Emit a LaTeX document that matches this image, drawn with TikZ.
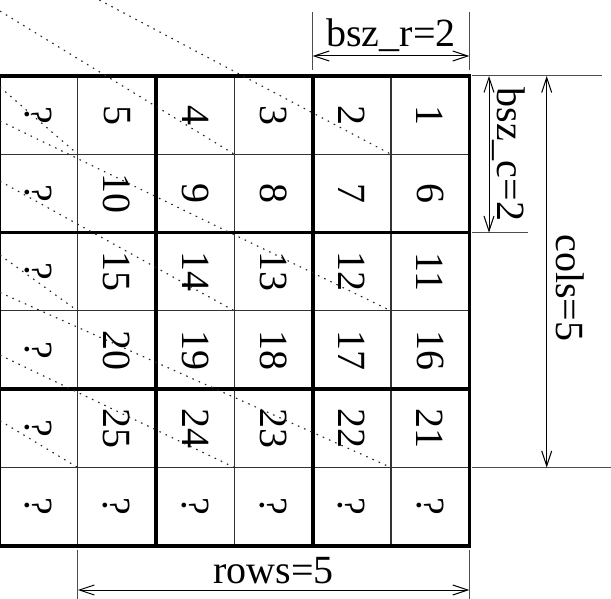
\documentclass[tikz,border=0pt]{standalone}
\usepackage{fontspec}
\setmainfont{Liberation Serif}
\usetikzlibrary{arrows.meta}
\begin{document}
\begin{tikzpicture}[x=1pt,y=-1pt,
  thinrule/.style={line width=1.1pt, black!80},
  thickrule/.style={line width=3.6pt, line cap=rect},
  dotline/.style={line width=1.1pt, dash pattern=on 1.6pt off 5.2pt, black!85},
  dimarrow/.style={line width=1pt, {Straight Barb[length=15pt,width=10pt]}-{Straight Barb[length=15pt,width=10pt]}},
  extline/.style={line width=1pt, black!70},
  celltext/.style={font=\fontsize{40}{48}\selectfont, rotate=-90, inner sep=0pt},
  lbl/.style={font=\fontsize{40}{48}\selectfont, inner sep=0pt}]
\useasboundingbox (0,0) rectangle (611,599);
\clip (0,0) rectangle (611,599);
\def\GL{-0.5}\def\GT{76}\def\GS{78.3}
% cell texts
\foreach \r in {0,...,5}{
  \foreach \c in {0,...,5}{
    \pgfmathsetmacro{\cx}{\GL+\GS*(\c+0.5)}
    \pgfmathsetmacro{\cy}{\GT+\GS*(\r+0.5)}
    \pgfmathtruncatemacro{\v}{5*\r+6-\c}
    \ifnum\c=0
      \node[celltext] (n-\r-\c) at (\cx,\cy) {?};
    \else\ifnum\r=5
      \node[celltext] (n-\r-\c) at (\cx,\cy) {?};
    \else
      \node[celltext] (n-\r-\c) at (\cx,\cy) {\v};
    \fi\fi
  }
}
% thin grid lines
\foreach \i in {1,3,5}{
  \draw[thinrule] ({\GL+\GS*\i},\GT) -- ({\GL+\GS*\i},{\GT+6*\GS});
  \draw[thinrule] (\GL,{\GT+\GS*\i}) -- ({\GL+6*\GS},{\GT+\GS*\i});
}
% thick block lines
\foreach \i in {0,2,4,6}{
  \draw[thickrule] ({\GL+\GS*\i},\GT) -- ({\GL+\GS*\i},{\GT+6*\GS});
  \draw[thickrule] (\GL,{\GT+\GS*\i}) -- ({\GL+6*\GS},{\GT+\GS*\i});
}
% block centres and dotted lines
\coordinate (b00) at (77.8,154.3);
\coordinate (b01) at (234.4,154.3);
\coordinate (b02) at (391,154.3);
\coordinate (b10) at (77.8,310.9);
\coordinate (b11) at (234.4,310.9);
\coordinate (b12) at (391,310.9);
\coordinate (b20) at (77.8,467.5);
\coordinate (b21) at (234.4,467.5);
\coordinate (b22) at (391,467.5);
\coordinate (s00) at (0,87.2);
\coordinate (s01) at (0,11.1);
\coordinate (s02) at (99.3,0);
\coordinate (s10) at (0,255.1);
\coordinate (s11) at (0,181.2);
\coordinate (s12) at (0,120.9);
\coordinate (s20) at (0,420.7);
\coordinate (s21) at (0,355.1);
\coordinate (s22) at (0,292.5);
\foreach \k in {00,01,02,10,11,12,20,21,22}{
  \draw[dotline] (s\k) -- (b\k);
}
% bsz_r dimension
\coordinate (r1t) at (312.7,12); \coordinate (r1b) at (312.7,70);
\coordinate (r2t) at (469.3,12); \coordinate (r2b) at (469.3,70);
\draw[extline] (r1t) -- (r1b);
\draw[extline] (r2t) -- (r2b);
\draw[dimarrow] (312.7,56) coordinate (ra) -- (469.3,56) coordinate (rb);
\node[lbl, anchor=base] (bszr) at (391,46.5) {bsz\_r=2};
% bsz_c and cols dimensions
\coordinate (e1a) at (472,76); \coordinate (e1b) at (602,76);
\coordinate (e2a) at (472,232.6); \coordinate (e2b) at (528,232.6);
\coordinate (e3a) at (472,467.5); \coordinate (e3b) at (611,467.5);
\draw[extline] (e1a) -- (e1b);
\draw[extline] (e2a) -- (e2b);
\draw[extline] (e3a) -- (e3b);
\draw[dimarrow] (489,76) coordinate (ca) -- (489,232.6) coordinate (cb);
\node[lbl, rotate=-90, anchor=base] (bszc) at (497,154.3) {bsz\_c=2};
\draw[dimarrow] (546.7,76) coordinate (da) -- (546.7,467.5) coordinate (db);
\node[lbl, rotate=-90, anchor=base] (cols) at (556,288) {cols=5};
% rows dimension
\coordinate (w1t) at (77.8,550); \coordinate (w1b) at (77.8,599);
\coordinate (w2t) at (469.3,550); \coordinate (w2b) at (469.3,599);
\draw[extline] (w1t) -- (w1b);
\draw[extline] (w2t) -- (w2b);
\draw[dimarrow] (77.8,590) coordinate (wa) -- (469.3,590) coordinate (wb);
\node[lbl, anchor=base] (rows) at (273.5,583) {rows=5};
\end{tikzpicture}
\end{document}
